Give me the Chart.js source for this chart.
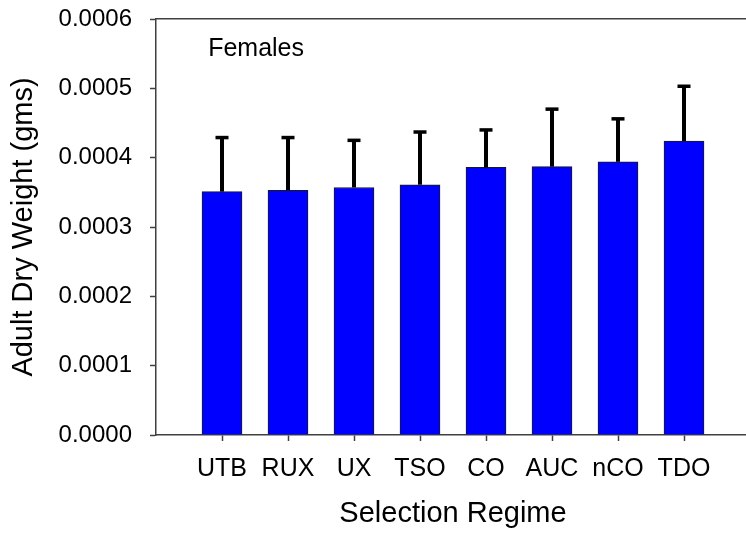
<!DOCTYPE html>
<html>
<head>
<meta charset="utf-8">
<title>Adult Dry Weight - Females</title>
<script src="https://cdn.jsdelivr.net/npm/chart.js@4/dist/chart.umd.min.js"></script>
<style>
	html, body { margin: 0; padding: 0; background: #fff; overflow: hidden; }
	canvas { display: block; }
</style>
</head>
<body>
<canvas id="weightChart" width="750" height="535"></canvas>
<script>
const categories = ["UTB", "RUX", "UX", "TSO", "CO", "AUC", "nCO", "TDO"];
const meanWeight = [0.000351, 0.000353, 0.000357, 0.000361, 0.000386, 0.000387, 0.000394, 0.000424];
const errorUp = [0.000078, 0.000076, 0.000068, 0.000076, 0.000054, 0.000083, 0.000062, 0.000079];
const yTicks = [0, 0.0001, 0.0002, 0.0003, 0.0004, 0.0005, 0.0006];
const panelLabel = "Females";

const FONT = 'Arial, "Liberation Sans", sans-serif';
const AXIS_COLOR = "#404040";

// bars sit at x = 1..8 on a 0..9 linear axis
const barData = categories.map((c, i) => ({ x: i + 1, y: meanWeight[i] }));

// upward-only error bars with a flat cap
const errorBars = {
	id: "errorBars",
	afterDatasetsDraw(chart) {
		const { ctx, scales } = chart;
		const meta = chart.getDatasetMeta(0);
		ctx.save();
		ctx.strokeStyle = "#000";
		ctx.lineCap = "butt";
		meta.data.forEach((bar, i) => {
			const top = scales.y.getPixelForValue(meanWeight[i] + errorUp[i]);
			ctx.lineWidth = 4;
			ctx.beginPath();
			ctx.moveTo(bar.x, bar.y);
			ctx.lineTo(bar.x, top);
			ctx.stroke();
			ctx.lineWidth = 3.5;
			ctx.beginPath();
			ctx.moveTo(bar.x - 6.5, top);
			ctx.lineTo(bar.x + 6.5, top);
			ctx.stroke();
		});
		ctx.restore();
	},
};

// "Females" panel label in the upper left of the plot
const panelText = {
	id: "panelText",
	afterDraw(chart) {
		const { ctx, scales } = chart;
		ctx.save();
		ctx.font = "25px " + FONT;
		ctx.fillStyle = "#000";
		ctx.textAlign = "left";
		ctx.textBaseline = "middle";
		ctx.fillText(panelLabel, scales.x.getPixelForValue(0.79), scales.y.getPixelForValue(0.000556));
		ctx.restore();
	},
};

new Chart(document.getElementById("weightChart").getContext("2d"), {
	type: "bar",
	data: {
		datasets: [
			{
				label: "Adult dry weight",
				data: barData,
				backgroundColor: "#0000FF",
				borderColor: "#1a1a1a",
				borderWidth: 1,
				barThickness: 40,
			},
		],
	},
	options: {
		responsive: false,
		animation: false,
		layout: { padding: { top: 19, right: 0, left: 0, bottom: 0 } },
		plugins: {
			legend: { display: false },
			tooltip: { enabled: false },
		},
		scales: {
			x: {
				type: "linear",
				min: 0,
				max: 9,
				offset: false,
				afterBuildTicks: (axis) => {
					axis.ticks = categories.map((c, i) => ({ value: i + 1 }));
				},
				afterFit: (axis) => {
					axis.height = 100;
				},
				ticks: {
					color: "#000",
					font: { family: FONT, size: 25 },
					padding: 13,
					maxRotation: 0,
					autoSkip: false,
					callback: (v) => categories[v - 1],
				},
				grid: {
					offset: false,
					drawOnChartArea: false,
					drawTicks: true,
					tickLength: 6,
					tickColor: AXIS_COLOR,
					tickWidth: 1.5,
				},
				border: { color: AXIS_COLOR, width: 1.5 },
				title: {
					display: true,
					text: "Selection Regime",
					color: "#000",
					font: { family: FONT, size: 29 },
					padding: { top: 0, bottom: 4 },
				},
			},
			x2: {
				type: "linear",
				position: "top",
				min: 0,
				max: 9,
				offset: false,
				ticks: { display: false },
				grid: { display: false, drawTicks: false },
				border: { color: AXIS_COLOR, width: 1.5 },
				afterFit: (axis) => {
					axis.height = 0;
				},
			},
			y: {
				min: 0,
				max: 0.0006,
				afterBuildTicks: (axis) => {
					axis.ticks = yTicks.map((v) => ({ value: v }));
				},
				afterFit: (axis) => {
					axis.width = 156;
					axis.paddingTop = 0;
					axis.paddingBottom = 0;
				},
				ticks: {
					color: "#000",
					font: { family: FONT, size: 24 },
					padding: 18,
					callback: (v) => v.toFixed(4),
				},
				grid: {
					drawOnChartArea: false,
					drawTicks: true,
					tickLength: 6,
					tickColor: AXIS_COLOR,
					tickWidth: 1.5,
				},
				border: { color: AXIS_COLOR, width: 1.5 },
				title: {
					display: true,
					text: "Adult Dry Weight (gms)",
					color: "#000",
					font: { family: FONT, size: 29 },
					padding: { top: 7, bottom: 0 },
				},
			},
		},
	},
	plugins: [errorBars, panelText],
});
</script>
</body>
</html>
